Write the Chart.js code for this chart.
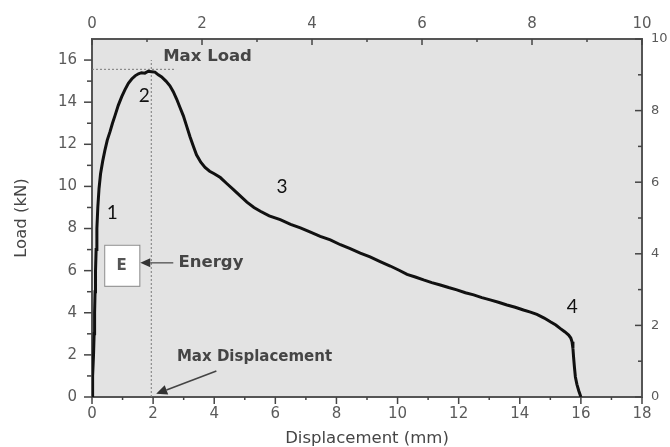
<!DOCTYPE html>
<html>
<head>
<meta charset="utf-8">
<script src="https://cdn.jsdelivr.net/npm/chart.js@4.4.0/dist/chart.umd.min.js"></script>
<style>
  body { margin: 0; background: #fff; }
  #wrap { width: 670px; height: 447px; }
</style>
</head>
<body>
<div id="wrap"><canvas id="chart" width="670" height="447"></canvas></div>
<script>
// load-displacement curve
const displacement = [0, 0.02, 0.05, 0.07, 0.085, 0.10, 0.115, 0.135, 0.16, 0.19, 0.23, 0.28, 0.35, 0.42, 0.50, 0.59, 0.67, 0.75, 0.86, 0.97,
  1.08, 1.19, 1.30, 1.41, 1.52, 1.62, 1.73, 1.84, 1.95, 2.06, 2.17, 2.28, 2.42, 2.55, 2.66, 2.77, 2.88, 2.99, 3.10, 3.21,
  3.32, 3.42, 3.56, 3.70, 3.85, 4.00, 4.20, 4.40, 4.63, 4.85, 5.07, 5.30, 5.51, 5.80, 6.16, 6.50, 6.82, 7.15, 7.47, 7.80,
  8.13, 8.45, 8.78, 9.10, 9.43, 9.76, 10.05, 10.31, 10.58, 10.85, 11.12, 11.40, 11.67, 11.94, 12.22, 12.49, 12.76, 13.03, 13.30, 13.58,
  13.85, 14.12, 14.35, 14.56, 14.80, 15.00, 15.18, 15.32, 15.47, 15.60, 15.67, 15.71, 15.74, 15.76, 15.79, 15.82, 15.87, 15.93, 16.00];
const load = [0, 1.0, 2.0, 3.0, 4.0, 5.0, 6.0, 7.0, 8.0, 9.0, 9.9, 10.6, 11.2, 11.7, 12.2, 12.6, 13.0, 13.35, 13.85, 14.25,
  14.6, 14.9, 15.1, 15.25, 15.35, 15.4, 15.38, 15.47, 15.45, 15.43, 15.3, 15.2, 15.0, 14.78, 14.5, 14.15, 13.75, 13.35, 12.85, 12.35,
  11.9, 11.5, 11.15, 10.9, 10.72, 10.6, 10.42, 10.15, 9.85, 9.55, 9.25, 9.0, 8.82, 8.6, 8.42, 8.2, 8.03, 7.83, 7.63, 7.46,
  7.23, 7.05, 6.83, 6.65, 6.43, 6.22, 6.02, 5.82, 5.7, 5.56, 5.43, 5.32, 5.2, 5.09, 4.95, 4.85, 4.72, 4.61, 4.5, 4.37,
  4.26, 4.13, 4.03, 3.92, 3.75, 3.57, 3.42, 3.26, 3.1, 2.94, 2.8, 2.62, 2.3, 1.91, 1.4, 0.95, 0.6, 0.3, 0];

// guide lines
const maxLoadX = [0, 2.75];
const maxLoadY = [15.56, 15.56];
const maxDispX = [1.94, 1.94];
const maxDispY = [0, 16];

// axes
const xRange = [0, 18];
const yRange = [0, 17];
const topRange = [0, 10];
const rightRange = [0, 10];

const toPoints = (xs, ys) => xs.map((x, i) => ({ x: x, y: ys[i] }));

const FONT = 'DejaVu Sans';
const tickFont = { family: FONT, size: 15 };
const tickColor = '#5a5a5a';

const bgAndTicks = {
  id: 'bgAndTicks',
  beforeDraw(chart) {
    const { ctx, chartArea: a } = chart;
    ctx.save();
    ctx.fillStyle = '#e3e3e3';
    ctx.fillRect(a.left, a.top, a.right - a.left, a.bottom - a.top);
    ctx.restore();
  },
  afterDraw(chart) {
    const { ctx, chartArea: a, scales } = chart;
    ctx.save();
    ctx.strokeStyle = '#444';
    ctx.lineWidth = 1.5;
    const hTicks = (scale, y0, dir, step, majorLen, minorLen) => {
      for (let v = scale.min; v <= scale.max + 1e-9; v += step / 2) {
        const major = Math.abs(v / step - Math.round(v / step)) < 1e-6;
        const px = scale.getPixelForValue(v);
        ctx.beginPath();
        ctx.moveTo(px, y0);
        ctx.lineTo(px, y0 + dir * (major ? majorLen : minorLen));
        ctx.stroke();
      }
    };
    const vTicks = (scale, x0, dir, step, majorLen, minorLen, maxV) => {
      for (let v = scale.min; v <= maxV + 1e-9; v += step / 2) {
        const major = Math.abs(v / step - Math.round(v / step)) < 1e-6;
        const py = scale.getPixelForValue(v);
        ctx.beginPath();
        ctx.moveTo(x0, py);
        ctx.lineTo(x0 + dir * (major ? majorLen : minorLen), py);
        ctx.stroke();
      }
    };
    hTicks(scales.x, a.bottom, 1, 2, 7, 3);
    hTicks(scales.xTop, a.top, 1, 2, 6, 3);
    vTicks(scales.y, a.left, -1, 2, 8, 5, 16);
    vTicks(scales.yRight, a.right, -1, 2, 7, 4, 10);
    ctx.restore();
  }
};

function arrow(ctx, x1, y1, x2, y2, head) {
  const ang = Math.atan2(y2 - y1, x2 - x1);
  ctx.beginPath();
  ctx.moveTo(x1, y1);
  ctx.lineTo(x2 - Math.cos(ang) * head, y2 - Math.sin(ang) * head);
  ctx.stroke();
  ctx.beginPath();
  ctx.moveTo(x2, y2);
  ctx.lineTo(x2 - Math.cos(ang) * head + Math.sin(ang) * head * 0.45, y2 - Math.sin(ang) * head - Math.cos(ang) * head * 0.45);
  ctx.lineTo(x2 - Math.cos(ang) * head - Math.sin(ang) * head * 0.45, y2 - Math.sin(ang) * head + Math.cos(ang) * head * 0.45);
  ctx.closePath();
  ctx.fill();
}

const notes = {
  id: 'notes',
  afterDatasetsDraw(chart) {
    const { ctx } = chart;
    const X = v => chart.scales.x.getPixelForValue(v);
    const Y = v => chart.scales.y.getPixelForValue(v);
    ctx.save();
    ctx.textBaseline = 'middle';
    ctx.textAlign = 'left';

    // bold grey labels
    ctx.fillStyle = '#454545';
    ctx.font = 'bold 16.5px "' + FONT + '"';
    ctx.fillText('Max Load', X(2.33), Y(16.18));
    ctx.fillText('Energy', X(2.83), Y(6.37));
    ctx.font = 'bold 15px "' + FONT + '"';
    ctx.fillText('Max Displacement', X(2.78), Y(1.91));

    // E box
    ctx.fillStyle = '#fff';
    ctx.strokeStyle = '#8a8a8a';
    ctx.lineWidth = 1;
    ctx.fillRect(X(0.40), Y(7.23), X(1.55) - X(0.40), Y(5.28) - Y(7.23));
    ctx.strokeRect(X(0.40) + 0.5, Y(7.23) + 0.5, X(1.55) - X(0.40), Y(5.28) - Y(7.23));
    ctx.fillStyle = '#555';
    ctx.textAlign = 'center';
    ctx.font = 'bold 15px "' + FONT + '"';
    ctx.fillText('E', X(0.97), Y(6.22));

    // arrows
    ctx.strokeStyle = '#444';
    ctx.fillStyle = '#333';
    ctx.lineWidth = 1.2;
    arrow(ctx, X(2.66), Y(6.37), X(1.58), Y(6.37), 10);
    ctx.lineWidth = 1.6;
    arrow(ctx, X(4.07), Y(1.23), X(2.10), Y(0.15), 11);

    // region numbers
    ctx.fillStyle = '#111';
    ctx.font = '19px Lato';
    ctx.fillText('1', X(0.66), Y(8.76));
    ctx.fillText('2', X(1.71), Y(14.3));
    ctx.fillText('3', X(6.22), Y(10.0));
    ctx.fillText('4', X(15.72), Y(4.3));
    ctx.restore();
  }
};

const guide = {
  type: 'scatter',
  showLine: true,
  borderColor: '#7a7a7a',
  borderWidth: 1,
  borderDash: [2, 2],
  pointRadius: 0
};

new Chart(document.getElementById('chart'), {
  type: 'scatter',
  data: {
    datasets: [
      {
        label: 'Load',
        data: toPoints(displacement, load),
        showLine: true,
        borderColor: '#111',
        borderWidth: 3,
        pointRadius: 0,
        tension: 0
      },
      Object.assign({ label: 'maxLoad', data: toPoints(maxLoadX, maxLoadY) }, guide),
      Object.assign({ label: 'maxDisp', data: toPoints(maxDispX, maxDispY) }, guide)
    ]
  },
  options: {
    responsive: false,
    animation: false,
    layout: { padding: 0 },
    plugins: { legend: { display: false }, tooltip: { enabled: false } },
    scales: {
      x: {
        type: 'linear', position: 'bottom', min: xRange[0], max: xRange[1],
        afterFit: s => { s.height = 50; },
        grid: { display: false, drawTicks: false },
        border: { display: true, color: '#555', width: 2 },
        ticks: { stepSize: 2, includeBounds: false, autoSkip: false, maxRotation: 0, padding: 8, color: tickColor, font: tickFont },
        title: { display: true, text: 'Displacement (mm)', color: '#454545', font: { family: FONT, size: 16.5, lineHeight: 1 }, padding: { top: 0, bottom: 0 } }
      },
      xTop: {
        type: 'linear', position: 'top', min: topRange[0], max: topRange[1],
        afterFit: s => { s.height = 39; },
        grid: { display: false, drawTicks: false },
        border: { display: true, color: '#555', width: 2 },
        ticks: { stepSize: 2, includeBounds: false, autoSkip: false, maxRotation: 0, padding: 6, color: tickColor, font: tickFont }
      },
      y: {
        type: 'linear', position: 'left', min: yRange[0], max: yRange[1],
        afterFit: s => { s.width = 92; },
        grid: { display: false, drawTicks: false },
        border: { display: true, color: '#555', width: 2 },
        ticks: { stepSize: 2, includeBounds: false, autoSkip: false, padding: 15, color: tickColor, font: tickFont },
        title: { display: true, text: 'Load (kN)', color: '#454545', font: { family: FONT, size: 16.5, lineHeight: 1 }, padding: { top: 13, bottom: 0 } }
      },
      yRight: {
        type: 'linear', position: 'right', min: rightRange[0], max: rightRange[1],
        afterFit: s => { s.width = 28; },
        grid: { display: false, drawTicks: false },
        border: { display: true, color: '#555', width: 2 },
        ticks: { stepSize: 2, includeBounds: false, autoSkip: false, padding: 9, color: tickColor, font: { family: FONT, size: 13 } }
      }
    }
  },
  plugins: [bgAndTicks, notes]
});
</script>
</body>
</html>
